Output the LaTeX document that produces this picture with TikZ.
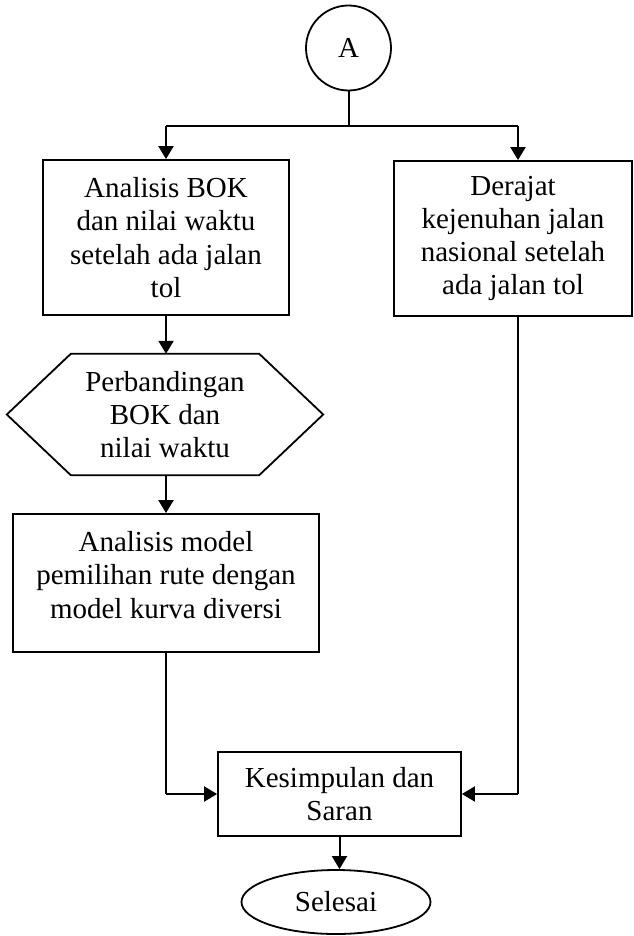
\documentclass[tikz,border=0pt]{standalone}
\usepackage{fontspec}
\setmainfont{Liberation Serif}
\usetikzlibrary{arrows.meta,shapes.geometric,calc}
\begin{document}
\begin{tikzpicture}[x=1pt,y=-1pt,
  every node/.style={font=\fontsize{29}{33.3}\selectfont, align=center, inner sep=0pt},
  boxst/.style={draw, line width=1.8pt, rectangle},
  conn/.style={line width=2pt},
  arr/.style={conn, -{Triangle[length=13pt,width=15pt]}}]
\useasboundingbox (0,0) rectangle (633,936);
\fill[white] (0,0) rectangle (633,936);
\node[draw, circle, line width=1.8pt, minimum size=85pt] (A) at (348.5,48) {A};
\coordinate (jc) at (348.5,126);
\coordinate (j1) at (166,126);
\coordinate (j2) at (518,126);
\node[boxst, minimum width=246pt, minimum height=155pt] (b1) at (166,237.5) {Analisis BOK\\dan nilai waktu\\setelah ada jalan\\tol};
\node[boxst, minimum width=238pt, minimum height=155pt] (b2) at (513,238.5) {Derajat\\kejenuhan jalan\\nasional setelah\\ada jalan tol};
\node[minimum width=316pt, minimum height=121pt] (hex) at (165,414.5) {Perbandingan\\BOK dan\\nilai waktu};
\draw[line width=1.8pt] (hex.west) -- ($(hex.north west)+(64,0)$) -- ($(hex.north east)+(-64,0)$) -- (hex.east) -- ($(hex.south east)+(-64,0)$) -- ($(hex.south west)+(64,0)$) -- cycle;
\node[boxst, minimum width=306pt, minimum height=138pt] (b3) at (166,583) {};
\node at ([yshift=8pt]b3.center) {Analisis model\\pemilihan rute dengan\\model kurva diversi};
\node[boxst, minimum width=243pt, minimum height=84pt] (b4) at (339.5,794) {Kesimpulan dan\\Saran};
\node[draw, ellipse, line width=1.8pt, minimum width=189pt, minimum height=64pt] (e) at (336,902) {Selesai};
\coordinate (k1) at (166,794);
\coordinate (k2) at (518,794);
\draw[conn] (A.south) -- (jc);
\draw[conn] (j1) -- (j2);
\draw[arr] (j1) -- (b1.north);
\draw[arr] (j2) -- (j2 |- b2.north);
\draw[arr] (b1.south) -- (hex.north -| b1.south);
\draw[arr] (hex.south -| b1.south) -- (b3.north);
\draw[conn] (b3.south) -- (k1);
\draw[arr] (k1) -- (b4.west);
\draw[conn] (j2 |- b2.south) -- (k2);
\draw[arr] (k2) -- (b4.east);
\draw[arr] (b4.south) -- (b4.south |- e.north);
\end{tikzpicture}
\end{document}
